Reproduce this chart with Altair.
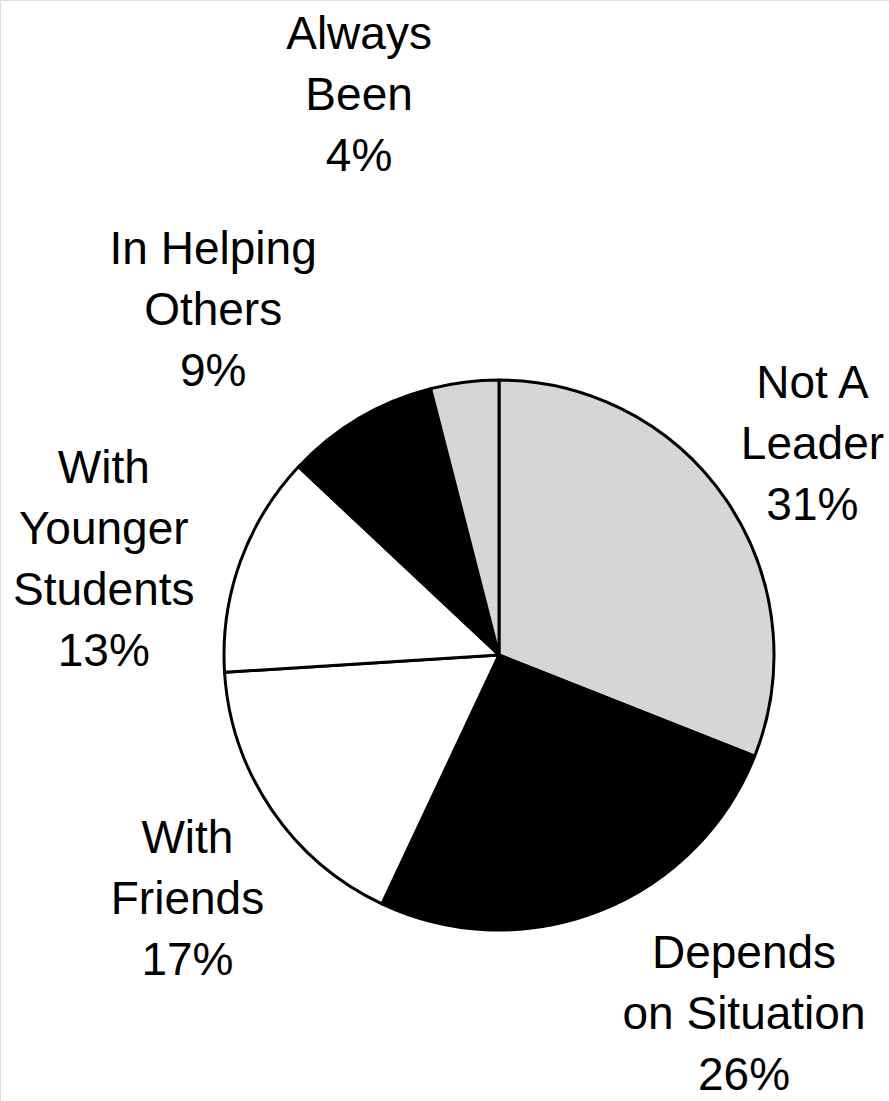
import math
import altair as alt

# ---- data ----
categories = ["Not A Leader", "Depends on Situation", "With Friends",
              "With Younger Students", "In Helping Others", "Always Been"]
percents = [31, 26, 17, 13, 9, 4]
label_lines = [["Not A", "Leader", "31%"],
               ["Depends", "on Situation", "26%"],
               ["With", "Friends", "17%"],
               ["With", "Younger", "Students", "13%"],
               ["In Helping", "Others", "9%"],
               ["Always", "Been", "4%"]]

# ---- styles / layout ----
fills = ["#d6d6d6", "#000000", "#ffffff", "#ffffff", "#000000", "#d6d6d6"]
label_angle_deg = [50.7, 141.95, 237.6, 293.5, 323.8, 347.0]
label_dist = [405, 397.5, 369, 431, 484, 622]
CX, CY, R = 499, 655, 275
W, H = 889, 1101

slices = alt.Data(values=[
    {"cat": c, "pct": p, "order": i, "fill": f}
    for i, (c, p, f) in enumerate(zip(categories, percents, fills))
])
labels = alt.Data(values=[
    {"cat": c, "txt": t, "ang": math.radians(a), "dist": d}
    for c, t, a, d in zip(categories, label_lines, label_angle_deg, label_dist)
])

pie = alt.Chart(slices).mark_arc(
    outerRadius=R, stroke="#000000", strokeWidth=3, strokeJoin="round"
).encode(
    theta=alt.Theta("pct:Q", stack=True, scale=alt.Scale(domain=[0, 100])),
    order=alt.Order("order:Q"),
    fill=alt.Fill("fill:N", scale=None),
    x=alt.value(CX),
    y=alt.value(CY),
)

text = alt.Chart(labels).mark_text(
    font="Liberation Sans", fontSize=46, lineHeight=61,
    align="center", baseline="alphabetic", color="#000000"
).encode(
    text=alt.Text("txt:N"),
    theta=alt.Theta("ang:Q", scale=None, stack=False),
    radius=alt.Radius("dist:Q", scale=None),
    x=alt.value(CX),
    y=alt.value(CY),
)

chart = alt.layer(pie, text).properties(
    width=W, height=H, autosize=alt.AutoSizeParams(type="none"), padding=0
).configure_view(stroke=None).configure(background="#ffffff")

chart.save("out.html", embed_options={"renderer": "svg", "actions": False})
